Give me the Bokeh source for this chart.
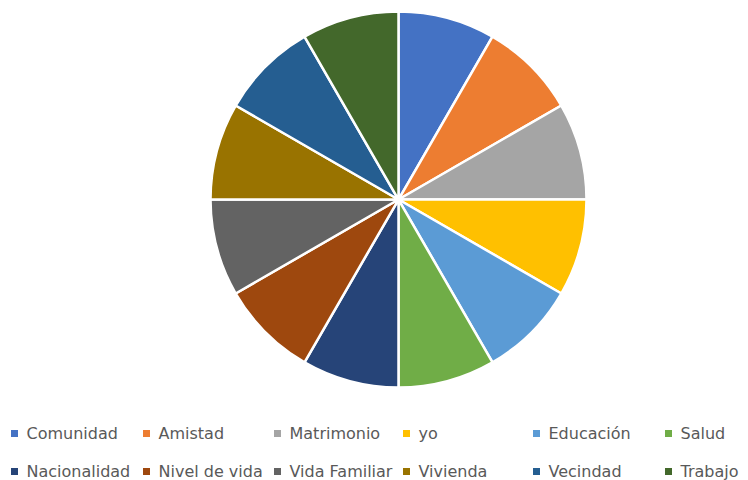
import math
from bokeh.plotting import figure
from bokeh.models import ColumnDataSource, Range1d
from bokeh.core.properties import value
from bokeh.embed import file_html
from bokeh.resources import INLINE

categories = ["Comunidad", "Amistad", "Matrimonio", "yo", "Educación", "Salud",
              "Nacionalidad", "Nivel de vida", "Vida Familiar", "Vivienda", "Vecindad", "Trabajo"]
values = [1, 1, 1, 1, 1, 1, 1, 1, 1, 1, 1, 1]
colors = ["#4472C4", "#ED7D31", "#A5A5A5", "#FFC000", "#5B9BD5", "#70AD47",
          "#264478", "#9E480E", "#636363", "#997300", "#255E91", "#43682B"]

W, H = 748, 480
cx, cy, r = 398, H - 199, 188

total = sum(values)
starts, ends = [], []
acc = 0.0
for v in values:
    a0 = math.pi / 2 - 2 * math.pi * acc / total
    acc += v
    a1 = math.pi / 2 - 2 * math.pi * acc / total
    starts.append(a1)
    ends.append(a0)

src = ColumnDataSource(dict(start=starts, end=ends, color=colors, cat=categories))

p = figure(width=W, height=H, output_backend="svg", toolbar_location=None,
           x_range=Range1d(0, W), y_range=Range1d(0, H), min_border=0)
p.axis.visible = False
p.grid.visible = False
p.outline_line_color = None
p.background_fill_color = "white"

p.wedge(x=cx, y=cy, radius=r, start_angle="start", end_angle="end",
        fill_color="color", line_color="white", line_width=2.5, source=src)

# legend
col_x = [14, 146, 277, 406, 536, 668]
row_y = [H - 433, H - 471]
lx, ly, lc, lt = [], [], [], []
for i, c in enumerate(categories):
    row, col = divmod(i, 6)
    lx.append(col_x[col])
    ly.append(row_y[row])
    lc.append(colors[i])
    lt.append(c)
lsrc = ColumnDataSource(dict(x=lx, y=ly, c=lc, t=lt, tx=[x + 12 for x in lx]))
p.rect(x="x", y="y", width=7, height=7, fill_color="c", line_color=None, source=lsrc)
p.text(x="tx", y="y", text="t", text_font=value("DejaVu Sans"), text_font_size="16px",
       text_color="#595959", text_baseline="middle", text_align="left", source=lsrc)

open("out.html", "w").write(file_html(p, INLINE))
